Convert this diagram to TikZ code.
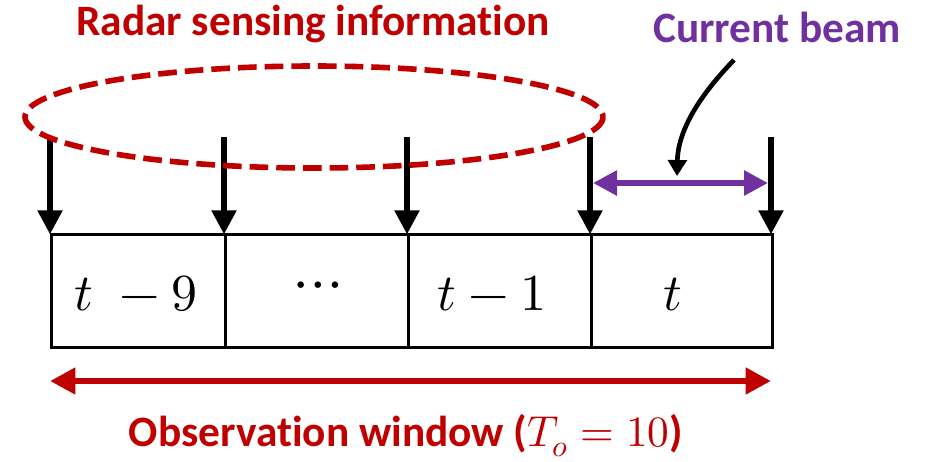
\documentclass[tikz,border=0pt]{standalone}
\usepackage{fontspec}
\usepackage{unicode-math}
\setmainfont{Carlito}[Ligatures=NoCommon]
\setmathfont{Latin Modern Math}
\usetikzlibrary{arrows.meta}
\definecolor{myred}{HTML}{C00000}
\definecolor{mypurple}{HTML}{7030A0}
\tikzset{
  lbl/.style={font=\fontsize{32.5}{36}\selectfont\bfseries, inner sep=0pt, anchor=base},
  cellmath/.style={font=\fontsize{39}{44}\selectfont, inner sep=0pt, anchor=base},
  slot/.style={draw=black, line width=2.2pt},
  tick/.style={line width=4pt, -{Triangle[length=18pt,width=18pt]}},
  window/.style={myred, line width=4.8pt, {Triangle[length=19pt,width=19pt]}-{Triangle[length=19pt,width=19pt]}},
  beam/.style={mypurple, line width=4.3pt, {Triangle[length=18pt,width=18pt]}-{Triangle[length=18pt,width=18pt]}},
  pointer/.style={line width=3.5pt, -{Triangle[length=12pt,width=14pt]}},
  sensing/.style={myred, line width=4.2pt, dash pattern=on 14pt off 6pt}
}
\begin{document}
\begin{tikzpicture}[x=0.75pt, y=-0.75pt]
\useasboundingbox (0,0) rectangle (928,461);
% time slots
\coordinate (b0) at (50,233);
\coordinate (b1) at (224,233);
\coordinate (b2) at (407,233);
\coordinate (b3) at (590,233);
\coordinate (b4) at (771,233);
\node[slot, inner sep=0pt, minimum width=174*0.75pt, minimum height=113*0.75pt, anchor=north west] (s1) at (50,233) {};
\node[slot, inner sep=0pt, minimum width=183*0.75pt, minimum height=113*0.75pt, anchor=north west] (s2) at (224,233) {};
\node[slot, inner sep=0pt, minimum width=183*0.75pt, minimum height=113*0.75pt, anchor=north west] (s3) at (407,233) {};
\node[slot, inner sep=0pt, minimum width=181*0.75pt, minimum height=113*0.75pt, anchor=north west] (s4) at (590,233) {};
% labels in cells
\node[cellmath] (l1) at (136,310) {$t\;-9$};
\node[cellmath, font=\fontsize{46}{50}\selectfont] (l2) at (318,300) {$\cdots$};
\node[cellmath] (l3) at (492,310) {$t-1$};
\node[cellmath] (l4) at (673,310) {$t$};
% arrow starts
\coordinate (a0) at (50,137);
\coordinate (a1) at (224,137);
\coordinate (a2) at (407,137);
\coordinate (a3) at (590,137);
\coordinate (a4) at (771,137);
\foreach \i in {0,...,4} { \draw[tick] (a\i) -- ([yshift=-1pt]b\i); }
% current beam
\coordinate (p0) at (593,183);
\coordinate (p1) at (768,183);
\draw[beam] (p0) -- (p1);
\coordinate (c0) at (734,60);
\coordinate (c1) at (677,176);
\draw[pointer] (c0) .. controls (700,95) and (678,130) .. (c1);
% observation window
\coordinate (w0) at (50,381);
\coordinate (w1) at (771,381);
\draw[window] (w0) -- (w1);
% sensing ellipse
\draw[sensing] (314,117) ellipse [x radius=289, y radius=51];
% texts
\node[lbl, myred] (t1) at (313,35) {Radar sensing information};
\node[lbl, mypurple] (t2) at (777,42) {Current beam};
\node[lbl, myred] (t3) at (406,446) {Observation window ($T_o=10$)};
\end{tikzpicture}
\end{document}
